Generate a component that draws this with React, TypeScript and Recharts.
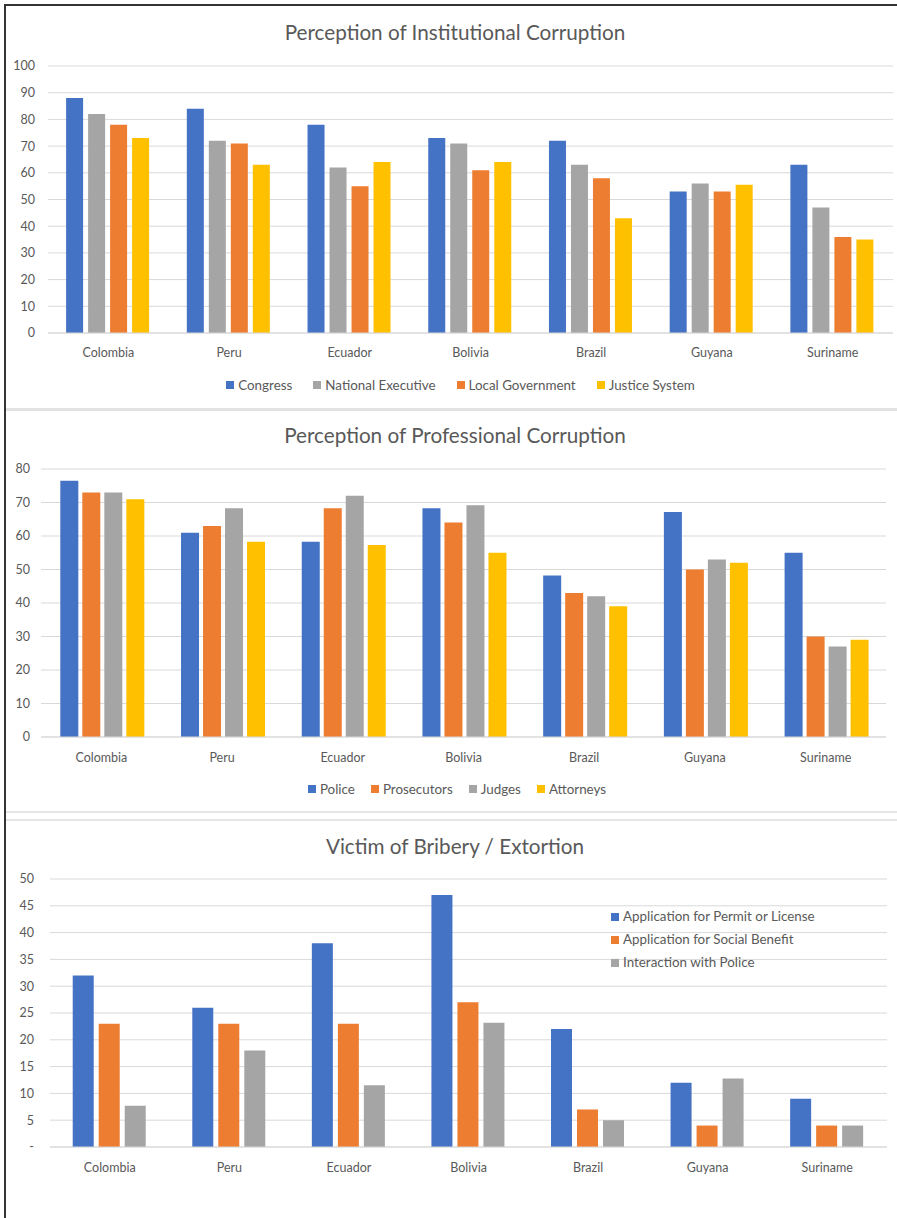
import React from 'react'
import { BarChart, Bar, XAxis, YAxis, CartesianGrid, Legend } from 'recharts'

const countries = ['Colombia', 'Peru', 'Ecuador', 'Bolivia', 'Brazil', 'Guyana', 'Suriname']

// Perception of Institutional Corruption
const congress = [88, 84, 78, 73, 72, 53, 63]
const nationalExecutive = [82, 72, 62, 71, 63, 56, 47]
const localGovernment = [78, 71, 55, 61, 58, 53, 36]
const justiceSystem = [73, 63, 64, 64, 43, 55.5, 35]
const institutionalTicks = [0, 10, 20, 30, 40, 50, 60, 70, 80, 90, 100]

// Perception of Professional Corruption
const police = [76.5, 61, 58.3, 68.3, 48.2, 67.2, 55]
const prosecutors = [73, 63, 68.3, 64, 43, 50, 30]
const judges = [73, 68.3, 72, 69.2, 42, 53, 27]
const attorneys = [71, 58.3, 57.3, 55, 39, 52, 29]
const professionalTicks = [0, 10, 20, 30, 40, 50, 60, 70, 80]

// Victim of Bribery / Extortion
const permit = [32, 26, 38, 47, 22, 12, 9]
const socialBenefit = [23, 23, 23, 27, 7, 4, 4]
const policeInteraction = [7.7, 18, 11.5, 23.2, 5, 12.8, 4]
const briberyTicks = [0, 5, 10, 15, 20, 25, 30, 35, 40, 45, 50]

const BLUE = '#4472C4'
const ORANGE = '#ED7D31'
const GRAY = '#A5A5A5'
const YELLOW = '#FFC000'
const TEXT = '#595959'
const GRID = '#D9D9D9'
const FONT = 'Lato, "Liberation Sans", sans-serif'

const institutionalData = countries.map((country, i) => ({
  country,
  congress: congress[i],
  nationalExecutive: nationalExecutive[i],
  localGovernment: localGovernment[i],
  justiceSystem: justiceSystem[i],
}))

const professionalData = countries.map((country, i) => ({
  country,
  police: police[i],
  prosecutors: prosecutors[i],
  judges: judges[i],
  attorneys: attorneys[i],
}))

const briberyData = countries.map((country, i) => ({
  country,
  permit: permit[i],
  socialBenefit: socialBenefit[i],
  policeInteraction: policeInteraction[i],
}))

const tickStyle = { fill: TEXT, fontSize: 12.5, fontFamily: FONT }

// keeps legend entries in series order instead of alphabetical
const SwatchLegend = ({ payload, gap, vertical, order }: any) => {
  const items = [...(payload || [])].sort(
    (a: any, b: any) => order.indexOf(a.dataKey) - order.indexOf(b.dataKey)
  )
  return (
    <div
      style={{
        display: 'flex',
        flexDirection: vertical ? 'column' : 'row',
        justifyContent: 'center',
        alignItems: vertical ? 'flex-start' : 'center',
        columnGap: gap,
        fontFamily: FONT,
        fontSize: 13.4,
        color: TEXT,
        lineHeight: vertical ? '23px' : '24px',
      }}
    >
      {items.map((entry: any) => (
        <div key={entry.value} style={{ display: 'flex', alignItems: 'center', whiteSpace: 'nowrap' }}>
          <span style={{ display: 'inline-block', width: 8, height: 8, background: entry.color, marginRight: 4 }} />
          {entry.value}
        </div>
      ))}
    </div>
  )
}

const Title = ({ text, top }: { text: string; top: number }) => (
  <div
    style={{
      position: 'absolute',
      top,
      left: 155,
      width: 600,
      textAlign: 'center',
      fontFamily: FONT,
      fontSize: 20.7,
      lineHeight: '26px',
      color: TEXT,
    }}
  >
    {text}
  </div>
)

const App = () => {
  return (
    <div
      style={{
        position: 'absolute',
        left: 0,
        top: 0,
        width: 897,
        height: 1218,
        background: '#fff',
        overflow: 'hidden',
      }}
    >
      {/* frame and panel separators */}
      <div style={{ position: 'absolute', left: 4, top: 4, width: 893, height: 2, background: '#333' }} />
      <div style={{ position: 'absolute', left: 4, top: 4, width: 2, height: 1214, background: '#333' }} />
      <div style={{ position: 'absolute', left: 6, top: 408, width: 891, height: 3, background: '#E2E2E2' }} />
      <div style={{ position: 'absolute', left: 6, top: 811, width: 891, height: 2, background: '#E6E6E6' }} />
      <div style={{ position: 'absolute', left: 6, top: 819, width: 891, height: 2, background: '#E6E6E6' }} />

      <Title text="Perception of Institutional Corruption" top={19} />
      <div style={{ position: 'absolute', left: 0, top: 0 }}>
        <BarChart
          width={897}
          height={405}
          data={institutionalData}
          margin={{ top: 66, right: 4, bottom: 8, left: 0 }}
          barCategoryGap="15%"
          barGap={5}
        >
          <CartesianGrid vertical={false} stroke={GRID} />
          <XAxis
            dataKey="country"
            interval={0}
            tick={tickStyle}
            tickLine={false}
            tickSize={0}
            tickMargin={15}
            axisLine={{ stroke: GRID }}
            height={40}
          />
          <YAxis
            domain={[0, 100]}
            ticks={institutionalTicks}
            tick={tickStyle}
            axisLine={false}
            tickLine={false}
            tickSize={0}
            tickMargin={13}
            width={48}
          />
          <Legend
            verticalAlign="bottom"
            wrapperStyle={{ height: 24, left: 14 }}
            content={(props: any) => (
              <SwatchLegend
                {...props}
                gap={21}
                order={['congress', 'nationalExecutive', 'localGovernment', 'justiceSystem']}
              />
            )}
          />
          <Bar dataKey="congress" name="Congress" fill={BLUE} isAnimationActive={false} />
          <Bar dataKey="nationalExecutive" name="National Executive" fill={GRAY} isAnimationActive={false} />
          <Bar dataKey="localGovernment" name="Local Government" fill={ORANGE} isAnimationActive={false} />
          <Bar dataKey="justiceSystem" name="Justice System" fill={YELLOW} isAnimationActive={false} />
        </BarChart>
      </div>

      <Title text="Perception of Professional Corruption" top={422} />
      <div style={{ position: 'absolute', left: 0, top: 409 }}>
        <BarChart
          width={897}
          height={403}
          data={professionalData}
          margin={{ top: 60, right: 11, bottom: 11, left: 0 }}
          barCategoryGap="16%"
          barGap={4}
        >
          <CartesianGrid vertical={false} stroke={GRID} />
          <XAxis
            dataKey="country"
            interval={0}
            tick={tickStyle}
            tickLine={false}
            tickSize={0}
            tickMargin={16}
            axisLine={{ stroke: GRID }}
            height={40}
          />
          <YAxis
            domain={[0, 80]}
            ticks={professionalTicks}
            tick={tickStyle}
            axisLine={false}
            tickLine={false}
            tickSize={0}
            tickMargin={11}
            width={41}
          />
          <Legend
            verticalAlign="bottom"
            wrapperStyle={{ height: 24, left: 14 }}
            content={(props: any) => (
              <SwatchLegend {...props} gap={16} order={['police', 'prosecutors', 'judges', 'attorneys']} />
            )}
          />
          <Bar dataKey="police" name="Police" fill={BLUE} isAnimationActive={false} />
          <Bar dataKey="prosecutors" name="Prosecutors" fill={ORANGE} isAnimationActive={false} />
          <Bar dataKey="judges" name="Judges" fill={GRAY} isAnimationActive={false} />
          <Bar dataKey="attorneys" name="Attorneys" fill={YELLOW} isAnimationActive={false} />
        </BarChart>
      </div>

      <Title text="Victim of Bribery / Extortion" top={833} />
      <div style={{ position: 'absolute', left: 0, top: 820 }}>
        <BarChart
          width={897}
          height={398}
          data={briberyData}
          margin={{ top: 59, right: 10, bottom: 31, left: 0 }}
          barCategoryGap="19%"
          barGap={5}
        >
          <CartesianGrid vertical={false} stroke={GRID} />
          <XAxis
            dataKey="country"
            interval={0}
            tick={tickStyle}
            tickLine={false}
            tickSize={0}
            tickMargin={16}
            axisLine={{ stroke: GRID }}
            height={40}
          />
          <YAxis
            domain={[0, 50]}
            ticks={briberyTicks}
            tick={tickStyle}
            tickFormatter={(v: number) => (v === 0 ? '-' : String(v))}
            axisLine={false}
            tickLine={false}
            tickSize={0}
            tickMargin={16}
            width={50}
          />
          <Legend
            layout="vertical"
            align="center"
            verticalAlign="middle"
            wrapperStyle={{ left: 611, top: 85, width: 260 }}
            content={(props: any) => (
              <SwatchLegend {...props} vertical order={['permit', 'socialBenefit', 'policeInteraction']} />
            )}
          />
          <Bar dataKey="permit" name="Application for Permit or License" fill={BLUE} isAnimationActive={false} />
          <Bar dataKey="socialBenefit" name="Application for Social Benefit" fill={ORANGE} isAnimationActive={false} />
          <Bar dataKey="policeInteraction" name="Interaction with Police" fill={GRAY} isAnimationActive={false} />
        </BarChart>
      </div>
    </div>
  )
}

export default App
